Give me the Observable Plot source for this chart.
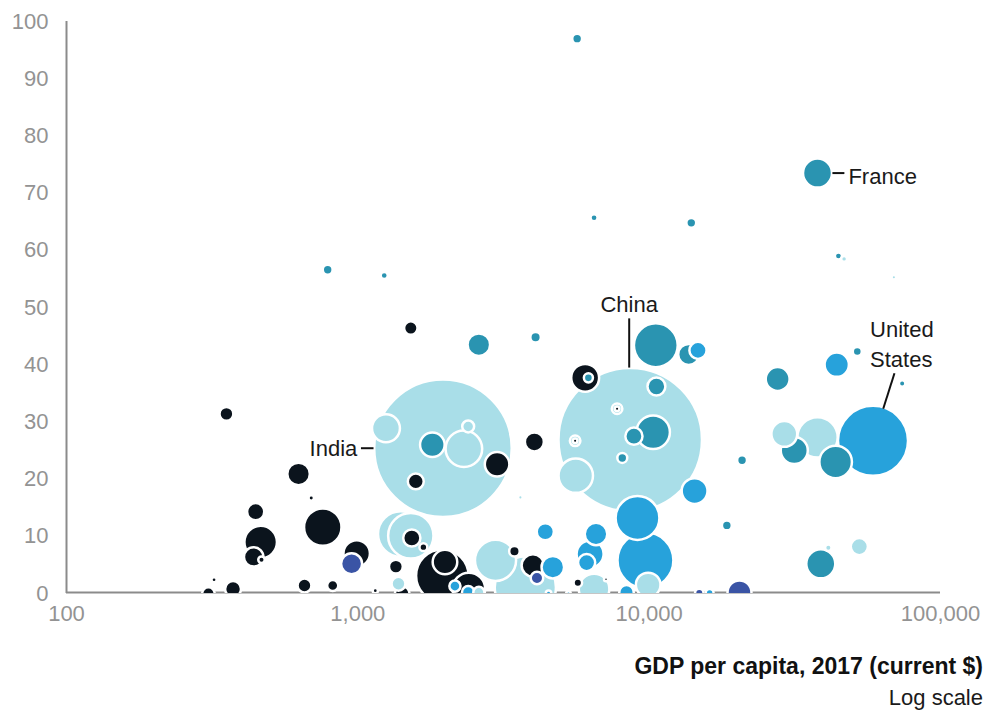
<!DOCTYPE html>
<html>
<head>
<meta charset="utf-8">
<script src="https://cdn.jsdelivr.net/npm/d3@7"></script>
<script src="https://cdn.jsdelivr.net/npm/@observablehq/plot@0.6"></script>
<style>
  html, body { margin: 0; padding: 0; background: #fff; overflow: hidden; }
  #chart svg { display: block; }
  .caption { width: 987px; text-align: right; font-family: "Liberation Sans", Arial, sans-serif; font-size: 22px; line-height: 31px; color: #1a1a1a; box-sizing: border-box; padding-right: 4px; margin-top: 11px; }
  .caption b { font-weight: bold; color: #111; font-size: 23px; }
</style>
</head>
<body>
<div id="chart"></div>
<div class="caption"><b>GDP per capita, 2017 (current $)</b><br>Log scale</div>
<script>
// Region groups (colour categories)
const regions = ["Africa", "Asia", "Europe", "Americas", "Middle East"];
const regionColors = ["#0b141d", "#a9dee8", "#2a94b1", "#27a2db", "#3a54a5"];

// [GDP per capita 2017 ($), share (%), population (millions)]
const africa = [
  [354, 31.4, 9], [626, 20.9, 28], [692, 16.7, 0.6], [446, 14.3, 15], [464, 9.0, 63],
  [439, 6.4, 20], [467, 5.9, 1.1], [758, 11.6, 85], [991, 7.0, 40], [307, 0, 7],
  [321, 2.4, 0.5], [373, 0.8, 12.5], [656, 1.4, 9], [820, 1.4, 5.2], [1148, 0.5, 0.5],
  [1351, 4.7, 9], [1420, 0, 10], [1532, 9.7, 15], [1679, 8.1, 2], [1950, 3.1, 174],
  [1991, 5.5, 34], [2405, 0.8, 63], [1520, 46.4, 8.4], [1581, 19.6, 12.5], [3006, 22.6, 34],
  [4036, 26.5, 19], [6030, 37.7, 45], [3448, 7.4, 4.5], [3990, 4.9, 28], [5690, 1.9, 2.5],
  [7110, 2.5, 0.15], [7760, 32.3, 0.3], [5570, 26.7, 0.3]
];
const asia = [
  [8610, 26.9, 1386], [1960, 25.4, 1271], [1249, 28.9, 45], [2312, 25.3, 81], [2392, 29.2, 6.2],
  [1405, 10.4, 130], [1520, 10.1, 128], [1379, 1.7, 9], [2603, 0.2, 5.2], [2969, 5.8, 104],
  [3758, 1.1, 240], [5598, 20.6, 71], [3614, 16.8, 0.3], [7760, 32.3, 4.5], [5570, 26.7, 4.5],
  [9922, 1.5, 34], [6470, 0.8, 55], [29100, 27.9, 38], [37830, 27.3, 100], [52650, 8.2, 15],
  [41210, 8.0, 1.1], [46680, 58.5, 0.8], [69180, 55.3, 0.3]
];
const europe = [
  [37830, 73.5, 49], [5660, 97.0, 3.8], [6470, 65.7, 1.5], [13950, 64.8, 3.8], [1232, 55.6, 1.5],
  [788, 56.6, 3.8], [44630, 59.0, 1.5], [2602, 43.5, 28], [4075, 44.8, 4.5], [10540, 43.4, 119],
  [13670, 41.8, 24], [51810, 42.3, 3], [73860, 36.7, 1.1], [27610, 37.5, 32], [10320, 28.2, 67],
  [8865, 27.5, 15], [10590, 36.2, 16.5], [8086, 23.7, 3.8], [6186, 37.7, 3], [1802, 26.0, 34],
  [20840, 23.3, 3.8], [31480, 25.0, 42], [43660, 23.0, 63], [18480, 11.9, 3.8], [38820, 5.2, 49]
];
const americas = [
  [58660, 26.7, 318], [44040, 40.0, 33], [14710, 42.5, 15], [14320, 17.9, 38], [9120, 13.2, 119],
  [9710, 5.8, 199], [6570, 10.4, 28], [6270, 6.9, 42], [6100, 5.4, 15], [4670, 4.6, 28],
  [4400, 10.8, 15], [8360, 0.2, 10], [16130, 0.1, 2], [2154, 1.3, 5.2], [2393, 0.2, 7],
  [4515, 0.05, 0.6], [5284, 0, 0.3]
];
const middleEast = [
  [952, 5.2, 24], [4120, 2.7, 7], [14860, 0.1, 2.5], [20420, 0.2, 32]
];

// Axis ticks
const xTicks = [100, 1000, 10000, 100000];
const yTicks = [0, 10, 20, 30, 40, 50, 60, 70, 80, 90, 100];

// Annotations: label text and anchor point (data units)
const labelText = ["France", "China", "India", "United\nStates"];
const labelGdp = [48300, 8540, 996, 57300];
const labelShare = [73.3, 50.5, 25.2, 43.9];
const labelAnchor = ["start", "middle", "end", "start"];
// Leader lines: [gdp1, share1, gdp2, share2]
const leaders = [
  [42560, 73.5, 46780, 73.5],
  [8540, 39.5, 8540, 48.1],
  [1025, 25.4, 1132, 25.4],
  [69500, 38.5, 63590, 32.3]
];

const groups = [africa, asia, europe, americas, middleEast];
const rows = [];
groups.forEach((g, i) => g.forEach(([gdp, share, pop]) => rows.push({region: regions[i], gdp, share, pop})));
rows.sort((a, b) => b.pop - a.pop);

const labels = labelText.map((t, i) => ({text: t, gdp: labelGdp[i], share: labelShare[i], anchor: labelAnchor[i]}));
const leaderRows = leaders.map(([a, b, c, d]) => ({x1: a, y1: b, x2: c, y2: d}));

const axisGray = "#8b8b8b";
const font = "'Liberation Sans', Arial, sans-serif";

const chart = Plot.plot({
  width: 987,
  height: 640,
  marginLeft: 66,
  marginRight: 47,
  marginTop: 21,
  marginBottom: 47,
  style: {fontFamily: font, fontSize: "22px", color: "#939393", background: "white"},
  x: {type: "log", domain: [100, 100000], ticks: xTicks, tickFormat: d3.format(","), tickSize: 0, tickPadding: 12, label: null},
  y: {domain: [0, 100], ticks: yTicks, tickSize: 0, tickPadding: 18, label: null},
  r: {type: "sqrt", domain: [0, 1386], range: [1.25, 71.75]},
  color: {domain: regions, range: regionColors},
  marks: [
    Plot.ruleX([100], {y1: 0, y2: 100, stroke: axisGray, strokeWidth: 2}),
    Plot.ruleY([0], {stroke: axisGray, strokeWidth: 2, dy: -1}),
    Plot.dot(rows, {x: "gdp", y: "share", r: "pop", fill: "region", stroke: "white", strokeWidth: 2.5, clip: true, sort: null}),
    Plot.link(leaderRows, {x1: "x1", y1: "y1", x2: "x2", y2: "y2", stroke: "#111", strokeWidth: 2}),
    Plot.text(labels.filter(d => d.anchor === "start"), {x: "gdp", y: "share", text: "text", textAnchor: "start", fill: "#1a1a1a", fontSize: 22, lineHeight: 1.36}),
    Plot.text(labels.filter(d => d.anchor === "middle"), {x: "gdp", y: "share", text: "text", textAnchor: "middle", fill: "#1a1a1a", fontSize: 22}),
    Plot.text(labels.filter(d => d.anchor === "end"), {x: "gdp", y: "share", text: "text", textAnchor: "end", fill: "#1a1a1a", fontSize: 22})
  ]
});
document.getElementById("chart").appendChild(chart);
</script>
</body>
</html>
